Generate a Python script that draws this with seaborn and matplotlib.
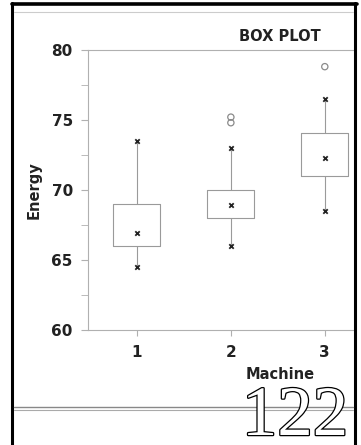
import pandas as pd
import matplotlib
matplotlib.use("Agg")
import matplotlib.pyplot as plt
import matplotlib.patheffects as pe
from matplotlib.lines import Line2D
import seaborn as sns

# five-number summary
machines = ["1", "2", "3"]
whisk_lo = [64.5, 66.0, 68.5]
q1 = [66.0, 68.0, 71.0]
median = [66.9, 68.9, 72.3]
q3 = [69.0, 70.0, 74.1]
whisk_hi = [73.5, 73.0, 76.5]
outlier_machine = ["2", "2", "3"]
outlier_energy = [74.8, 75.2, 78.8]

rows = []
for i, m in enumerate(machines):
    for v in (whisk_lo[i], q1[i], median[i], q3[i], whisk_hi[i]):
        rows.append({"Machine": m, "Energy": v})
box_df = pd.DataFrame(rows)

marks = []
for i, m in enumerate(machines):
    for v in (whisk_lo[i], median[i], whisk_hi[i]):
        marks.append({"Machine": m, "Energy": v})
mark_df = pd.DataFrame(marks)
out_df = pd.DataFrame({"Machine": outlier_machine, "Energy": outlier_energy})

sns.set_style("white")
plt.rcParams["font.family"] = ["DejaVu Sans"]

fig = plt.figure(figsize=(3.61, 4.45), dpi=100)
ax = fig.add_axes([0.244, 0.258, 0.739, 0.630])

sns.boxplot(data=box_df, x="Machine", y="Energy", order=machines, ax=ax,
            whis=(0, 100), width=0.5, fill=False, color="#9a9a9a",
            linewidth=0.8, showcaps=False,
            medianprops={"visible": False})
sns.stripplot(data=mark_df, x="Machine", y="Energy", order=machines, ax=ax,
              jitter=False, marker="x", color="#222222", size=3.2,
              linewidth=1.3)
sns.stripplot(data=out_df, x="Machine", y="Energy", order=machines, ax=ax,
              jitter=False, marker="o", facecolor="none", edgecolor="#8a8a8a",
              size=4.5, linewidth=0.9)

ax.set_xlim(-0.52, 2.32)
ax.set_ylim(60, 80)
ax.set_yticks([60, 65, 70, 75, 80])
ax.set_yticks([62.5, 67.5, 72.5, 77.5], minor=True)
for s in ["left", "bottom", "top", "right"]:
    ax.spines[s].set_color("#b0b0b0")
    ax.spines[s].set_linewidth(0.8)
ax.spines["right"].set_visible(False)
ax.tick_params(axis="y", which="both", left=True, length=5, color="#b0b0b0",
               labelsize=11, pad=6)
ax.tick_params(axis="x", bottom=True, length=4, color="#b0b0b0",
               labelsize=11, pad=7)
for lab in ax.get_xticklabels() + ax.get_yticklabels():
    lab.set_fontweight("bold")
    lab.set_color("#222222")

ax.set_ylabel("Energy", fontsize=10.5, fontweight="bold", color="#222222")
ax.yaxis.set_label_coords(-0.175, 0.5)
ax.set_xlabel("Machine", fontsize=10.5, fontweight="bold", color="#222222")
ax.xaxis.set_label_coords(0.72, -0.13)
ax.text(0.72, 1.02, "BOX PLOT", transform=ax.transAxes, ha="center",
        va="bottom", fontsize=10.5, fontweight="bold", color="#222222")

# scanned page decorations
W, H = 361, 445
fig.add_artist(Line2D([12 / W, 12 / W], [0, 1 - 3 / H], color="black", lw=2.2))
fig.add_artist(Line2D([12 / W, 357 / W], [1 - 4 / H, 1 - 4 / H], color="black", lw=2.6))
fig.add_artist(Line2D([355 / W, 355 / W], [0, 1 - 3 / H], color="black", lw=2.2))
fig.add_artist(Line2D([14 / W, 353 / W], [1 - 12 / H, 1 - 12 / H], color="#cccccc", lw=0.8))
fig.add_artist(Line2D([14 / W, 353 / W], [1 - 407 / H, 1 - 407 / H], color="#888888", lw=1.0))
fig.add_artist(Line2D([14 / W, 353 / W], [1 - 410 / H, 1 - 410 / H], color="#aaaaaa", lw=0.8))
fig.text(295 / W, 1 - 435 / H, "122", ha="center", va="baseline",
         fontsize=51, family="Liberation Serif", color="white",
         path_effects=[pe.withStroke(linewidth=1.8, foreground="black")])

fig.savefig("out.png", dpi=100, facecolor="white")
